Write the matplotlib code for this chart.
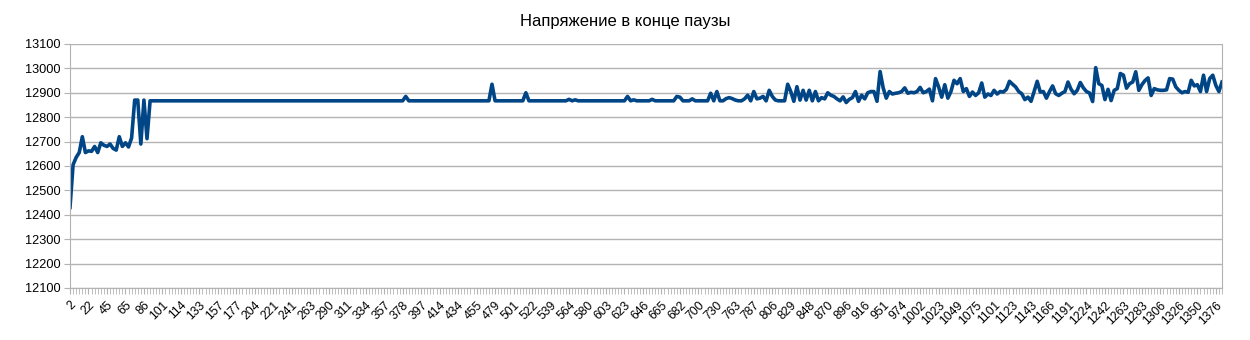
import matplotlib
matplotlib.use("Agg")
import matplotlib.pyplot as plt

plt.rcParams['font.family'] = ['Liberation Sans', 'DejaVu Sans']

title = "Напряжение в конце паузы"

# категории, подписанные на оси (каждая 6-я точка)
x_labels = ["2", "22", "45", "65", "86", "101", "114", "133", "157", "177",
            "204", "221", "241", "263", "290", "311", "334", "357", "378", "397",
            "414", "434", "455", "479", "501", "522", "539", "564", "580", "603",
            "623", "646", "665", "682", "700", "730", "763", "787", "806", "829",
            "848", "870", "896", "916", "951", "974", "1002", "1023", "1049", "1075",
            "1101", "1123", "1143", "1166", "1191", "1224", "1242", "1263", "1283", "1306",
            "1326", "1350", "1376"]
label_step = 6

# значения напряжения
voltage = [
    12430, 12605, 12635, 12655, 12720, 12655, 12662, 12660, 12680, 12655,
    12695, 12685, 12680, 12690, 12672, 12665, 12720, 12680, 12695, 12678,
    12715, 12870, 12870, 12690, 12870, 12712, 12867, 12867, 12867, 12867,
    12867, 12867, 12867, 12867, 12867, 12867, 12867, 12867, 12867, 12867,
    12867, 12867, 12867, 12867, 12867, 12867, 12867, 12867, 12867, 12867,
    12867, 12867, 12867, 12867, 12867, 12867, 12867, 12867, 12867, 12867,
    12867, 12867, 12867, 12867, 12867, 12867, 12867, 12867, 12867, 12867,
    12867, 12867, 12867, 12867, 12867, 12867, 12867, 12867, 12867, 12867,
    12867, 12867, 12867, 12867, 12867, 12867, 12867, 12867, 12867, 12867,
    12867, 12867, 12867, 12867, 12867, 12867, 12867, 12867, 12867, 12867,
    12867, 12867, 12867, 12867, 12867, 12867, 12867, 12867, 12867, 12885,
    12867, 12867, 12867, 12867, 12867, 12867, 12867, 12867, 12867, 12867,
    12867, 12867, 12867, 12867, 12867, 12867, 12867, 12867, 12867, 12867,
    12867, 12867, 12867, 12867, 12867, 12867, 12867, 12935, 12867, 12867,
    12867, 12867, 12867, 12867, 12867, 12867, 12867, 12867, 12900, 12867,
    12867, 12867, 12867, 12867, 12867, 12867, 12867, 12867, 12867, 12867,
    12867, 12867, 12873, 12867, 12871, 12867, 12867, 12867, 12867, 12867,
    12867, 12867, 12867, 12867, 12867, 12867, 12867, 12867, 12867, 12867,
    12867, 12885, 12867, 12871, 12867, 12867, 12867, 12867, 12867, 12873,
    12867, 12867, 12867, 12867, 12867, 12867, 12867, 12885, 12882, 12867,
    12867, 12867, 12875, 12867, 12867, 12867, 12867, 12867, 12898, 12867,
    12905, 12867, 12867, 12876, 12880, 12876, 12870, 12867, 12867, 12875,
    12890, 12867, 12905, 12875, 12878, 12885, 12867, 12910, 12885, 12870,
    12867, 12867, 12867, 12935, 12905, 12865, 12925, 12870, 12910, 12870,
    12910, 12867, 12905, 12867, 12880, 12875, 12900, 12890, 12885, 12875,
    12867, 12883, 12860, 12873, 12880, 12905, 12865, 12890, 12875, 12900,
    12905, 12905, 12865, 12987, 12920, 12878, 12905, 12895, 12898, 12900,
    12905, 12920, 12898, 12902, 12900, 12905, 12922, 12900, 12905, 12915,
    12867, 12958, 12924, 12882, 12933, 12878, 12905, 12951, 12937, 12958,
    12905, 12917, 12885, 12903, 12889, 12900, 12940, 12882, 12895, 12889,
    12910, 12895, 12905, 12903, 12914, 12947, 12935, 12924, 12905, 12896,
    12872, 12882, 12865, 12905, 12947, 12903, 12905, 12878, 12905, 12928,
    12896, 12889, 12898, 12905, 12944, 12914, 12896, 12910, 12942, 12920,
    12905, 12899, 12864, 13003, 12937, 12930, 12872, 12914, 12868, 12910,
    12917, 12979, 12972, 12919, 12937, 12944, 12986, 12910, 12933, 12950,
    12961, 12889, 12917, 12912, 12910, 12910, 12912, 12958, 12956, 12924,
    12910, 12900, 12905, 12902, 12951, 12928, 12933, 12905, 12972, 12905,
    12958, 12972, 12930, 12905, 12944,
]

y_min, y_max, y_step = 12100, 13100, 100

fig = plt.figure(figsize=(12.5, 3.4), dpi=100)
ax = fig.add_axes([0.056, 0.153, 0.9216, 0.7177])

idx = list(range(len(voltage)))
ax.plot(idx, voltage, color='#004586', lw=2.6, solid_joinstyle='round')

ax.set_xlim(0, len(voltage) - 1)
ax.set_ylim(y_min, y_max)
ax.set_yticks(range(y_min, y_max + 1, y_step))
ax.grid(axis='y', color='#b3b3b3', lw=1)
ax.set_axisbelow(True)

ax.set_xticks(idx, minor=True)
ax.set_xticks([i * label_step for i in range(len(x_labels))])
ax.set_xticklabels(x_labels, rotation=45, ha='right', va='top',
                   rotation_mode='anchor', fontsize=8.8)
ax.tick_params(axis='x', which='both', length=4, color='#b3b3b3', pad=4)
ax.tick_params(axis='y', length=4, color='#b3b3b3', labelsize=9.2, pad=3)

for s in ['left', 'right', 'bottom']:
    ax.spines[s].set_color('#b3b3b3')
ax.spines['top'].set_visible(False)

fig.suptitle(title, y=0.96, fontsize=12)

fig.savefig('out.png', dpi=100)
